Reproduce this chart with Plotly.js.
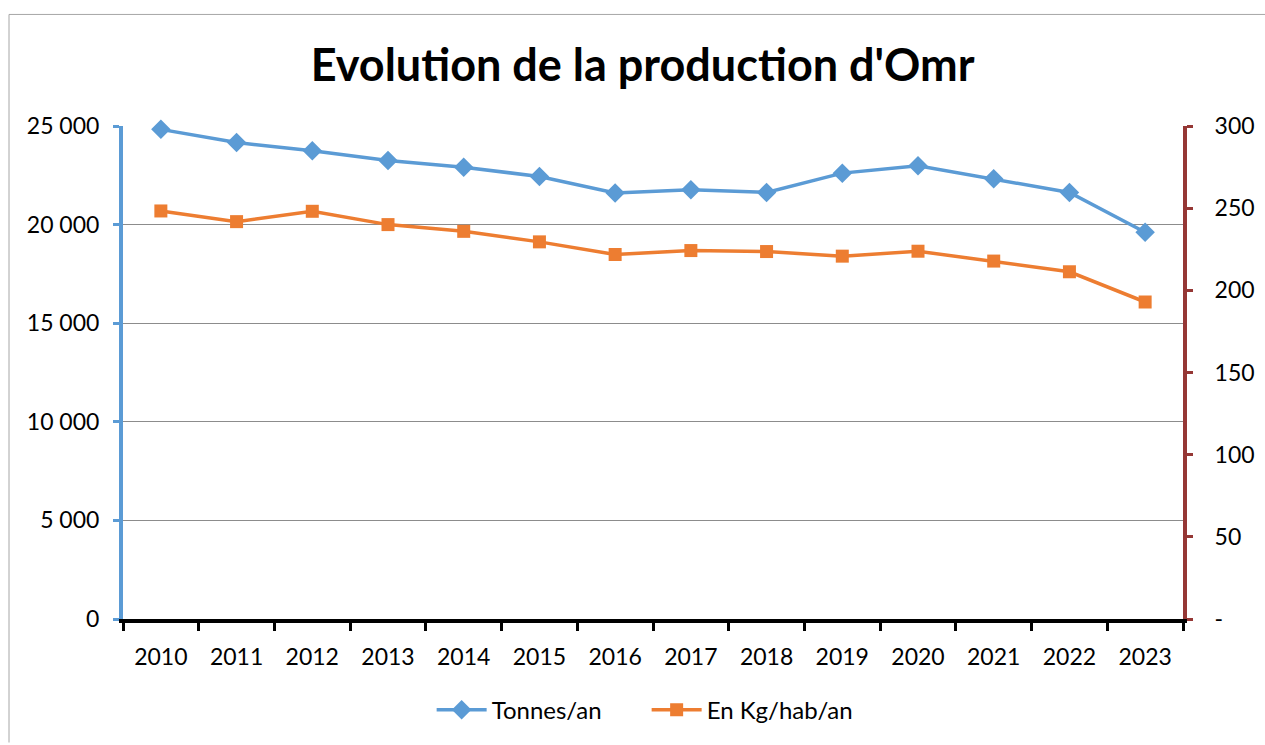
<!DOCTYPE html>
<html>
<head>
<meta charset="utf-8">
<script src="https://cdn.plot.ly/plotly-3.0.1.min.js"></script>
<style>
html,body{margin:0;padding:0;background:#fff;}
#chart{width:1265px;height:745px;}
</style>
</head>
<body>
<div id="chart"></div>
<script>
const years = ['2010','2011','2012','2013','2014','2015','2016','2017','2018','2019','2020','2021','2022','2023'];
const tonnesAn = [24830, 24160, 23750, 23250, 22910, 22440, 21600, 21770, 21630, 22610, 22980, 22320, 21630, 19610];
const kgHabAn = [248.3, 241.8, 248.1, 240.0, 235.9, 229.5, 221.8, 224.2, 223.6, 220.8, 223.8, 217.8, 211.3, 192.9];
const leftTickVals = [0, 5000, 10000, 15000, 20000, 25000];
const leftTickText = ['0', '5 000', '10 000', '15 000', '20 000', '25 000'];
const rightTickVals = [0, 50, 100, 150, 200, 250, 300];
const rightTickText = ['-', '50', '100', '150', '200', '250', '300'];

const font = 'Lato, "Open Sans", "DejaVu Sans", sans-serif';

const traces = [
  {
    x: years, y: tonnesAn, name: 'Tonnes/an', type: 'scatter', mode: 'lines+markers', cliponaxis: false,
    line: {color: '#5B9BD5', width: 3.5},
    marker: {symbol: 'diamond', size: 15, color: '#5B9BD5'},
    yaxis: 'y'
  },
  {
    x: years, y: kgHabAn, name: 'En Kg/hab/an', type: 'scatter', mode: 'lines+markers', cliponaxis: false,
    line: {color: '#ED7D31', width: 3.5},
    marker: {symbol: 'square', size: 13, color: '#ED7D31'},
    yaxis: 'y2'
  }
];

const layout = {
  width: 1265, height: 745,
  margin: {l: 123, r: 82, t: 126, b: 124},
  paper_bgcolor: '#fff', plot_bgcolor: '#fff',
  font: {family: font, size: 23, color: '#000'},
  title: {text: "<b>Evolution de la production d'Omr</b>", font: {family: font, size: 45, color: '#000'},
          x: 0.508, xanchor: 'center', y: 0.912, yanchor: 'middle'},
  showlegend: true,
  legend: {orientation: 'h', x: 0.494, xanchor: 'center', y: -0.185, yanchor: 'middle',
           itemwidth: 50, entrywidth: 150, entrywidthmode: 'pixels',
           font: {family: font, size: 24, color: '#000'}, traceorder: 'normal'},
  xaxis: {
    type: 'category', categoryorder: 'array', categoryarray: years, range: [-0.5, 13.5], autorange: false,
    tickson: 'boundaries', ticks: 'outside', ticklen: 8, tickwidth: 3, tickcolor: '#000',
    showline: true, linecolor: '#000', linewidth: 4, showgrid: false, zeroline: false,
    tickfont: {family: font, size: 23, color: '#000'}, ticklabelstandoff: 14
  },
  yaxis: {
    range: [0, 25000], autorange: false, tickvals: leftTickVals, ticktext: leftTickText,
    ticks: 'outside', ticklen: 6, tickwidth: 3, tickcolor: '#5B9BD5',
    showline: true, linecolor: '#5B9BD5', linewidth: 4,
    showgrid: true, gridcolor: '#8C8C8C', gridwidth: 1, zeroline: false,
    tickfont: {family: font, size: 23, color: '#000'}, ticklabelstandoff: 9
  },
  yaxis2: {
    range: [0, 300], autorange: false, overlaying: 'y', side: 'right', tickvals: rightTickVals, ticktext: rightTickText,
    ticks: 'outside', ticklen: 6, tickwidth: 3, tickcolor: '#953735',
    showline: true, linecolor: '#953735', linewidth: 4,
    showgrid: false, zeroline: false,
    tickfont: {family: font, size: 23, color: '#000'}, ticklabelstandoff: 17
  },
  shapes: [
    {type: 'line', xref: 'paper', yref: 'paper', x0: -114/1060, x1: -114/1060, y0: 1 + 112/495, y1: -124/495,
     line: {color: '#A6A6A6', width: 1}},
    {type: 'line', xref: 'paper', yref: 'paper', x0: -114/1060, x1: 1 + 82/1060, y0: 1 + 112/495, y1: 1 + 112/495,
     line: {color: '#A6A6A6', width: 1}}
  ]
};

Plotly.newPlot('chart', traces, layout, {displayModeBar: false, staticPlot: true});
</script>
</body>
</html>
